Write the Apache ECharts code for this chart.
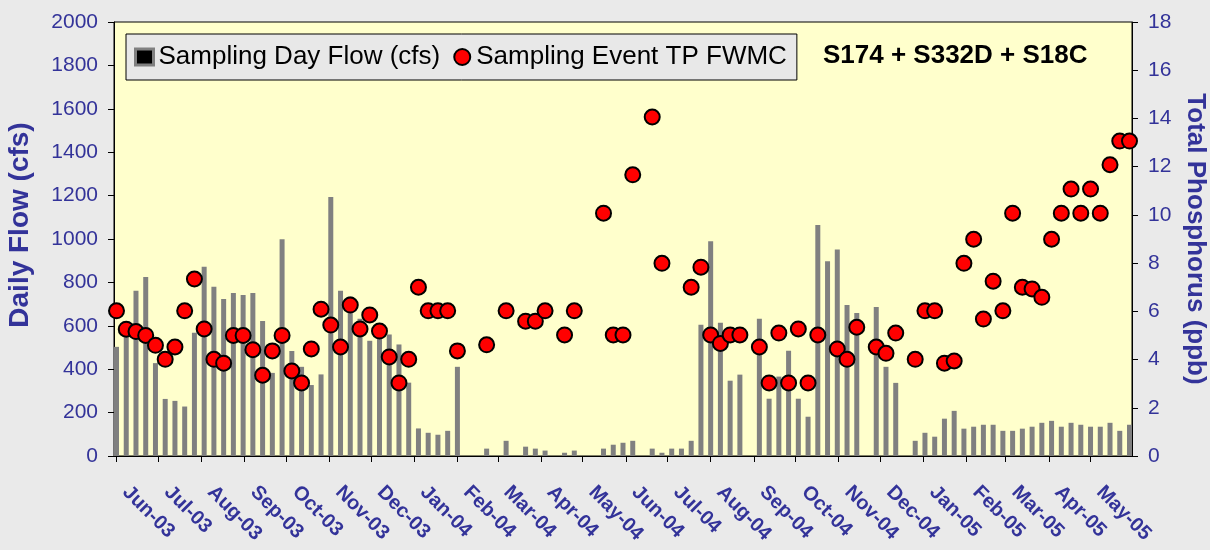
<!DOCTYPE html>
<html>
<head>
<meta charset="utf-8">
<title>S174 + S332D + S18C</title>
<script src="https://cdn.jsdelivr.net/npm/echarts@6/dist/echarts.min.js"></script>
<style>
    html, body { margin: 0; padding: 0; background: #EAEAEA; }
    #chart { width: 1210px; height: 550px; }
</style>
</head>
<body>
<div id="chart"></div>
<script>
// sampling days are weekly, the first one on 1 Jun 2003
var firstDay = [2003, 5, 1];
var lastDay = [2005, 4, 29];

// sampling day flow (cfs), one slot per week, null = no sample
var flowCfs = [
    503, 560, 762, 825, 428, 263, 254, 228, 568, 872,
    780, 723, 751, 742, 751, 622, 383, 999, 484, 411,
    327, 376, 1194, 761, 735, 633, 531, 590, 560, 514,
    338, 127, 107, 98, 116, 411, null, null, 34, null,
    70, null, 43, 34, 25, null, 15, 25, null, null,
    34, 52, 61, 70, null, 34, 15, 34, 34, 70,
    605, 990, 614, 347, 375, null, 632, 264, 366, 485,
    264, 181, 1064, 897, 952, 696, 659, null, 687, 411,
    337, null, 70, 107, 89, 172, 208, 126, 135, 144,
    144, 116, 116, 126, 135, 153, 162, 135, 153, 144,
    135, 135, 153, 116, 144
];

// sampling event TP flow weighted mean concentration (ppb)
var tpPpb = [
    6.02, 5.26, 5.16, 5.0, 4.59, 4.01, 4.52, 6.02, 7.34, 5.27,
    4.01, 3.85, 5.0, 5.0, 4.41, 3.35, 4.36, 5.0, 3.53, 3.03,
    4.44, 6.09, 5.43, 4.52, 6.26, 5.27, 5.85, 5.18, 4.11, 3.03,
    4.01, 7.0, 6.02, 6.02, 6.02, 4.36, null, null, 4.61, null,
    6.02, null, 5.59, 5.59, 6.02, null, 5.02, 6.02, null, null,
    10.07, 5.02, 5.02, 11.66, null, 14.06, 7.99, null, null, 7.0,
    7.83, 5.02, 4.67, 5.02, 5.02, null, 4.52, 3.03, 5.10, 3.03,
    5.27, 3.03, 5.02, null, 4.44, 4.01, 5.34, null, 4.52, 4.26,
    5.10, null, 4.01, 6.02, 6.02, 3.85, 3.94, 7.99, 8.99, 5.68,
    7.25, 6.02, 10.07, 7.0, 6.93, 6.58, 8.99, 10.07, 11.07, 10.07,
    11.07, 10.07, 12.08, 13.06, 13.06
];

var monthNames = ['Jan', 'Feb', 'Mar', 'Apr', 'May', 'Jun', 'Jul', 'Aug', 'Sep', 'Oct', 'Nov', 'Dec'];

var DAY = 24 * 3600 * 1000;
var fontName = '"Liberation Sans", Arial, sans-serif';
var axisBlue = '#333399';

// pair each weekly value with its date
function weekly(values) {
    var out = [];
    for (var i = 0; i < values.length; i++) {
        if (values[i] == null) continue;
        out.push([Date.UTC(firstDay[0], firstDay[1], firstDay[2] + 7 * i), values[i]]);
    }
    return out;
}

// no thousands separator on the value axes
function plainNumber(v) {
    return String(v);
}

var myChart = echarts.init(document.getElementById('chart'));

var option = {
    useUTC: true,
    animation: false,
    backgroundColor: '#EAEAEA',
    textStyle: { fontFamily: fontName },
    title: {
        text: 'S174 + S332D + S18C',
        left: 823,
        top: 43,
        padding: 0,
        textStyle: { fontSize: 26, fontWeight: 'bold', color: '#000', fontFamily: fontName }
    },
    legend: {
        left: 126,
        top: 34,
        padding: [10, 10, 10, 8],
        itemGap: 13,
        itemWidth: 18,
        itemHeight: 16,
        backgroundColor: '#E8E8E8',
        borderColor: '#000',
        borderWidth: 1,
        borderRadius: 0,
        textStyle: { fontSize: 26, color: '#000', fontFamily: fontName },
        data: [
            { name: 'Sampling Day Flow (cfs)', icon: 'rect',
              itemStyle: { color: '#000', borderColor: '#808080', borderWidth: 3 } },
            { name: 'Sampling Event TP FWMC', icon: 'circle' }
        ]
    },
    grid: {
        left: 114,
        right: 78,
        top: 22,
        bottom: 94,
        outerBoundsMode: 'none',
        containLabel: false,
        show: true,
        backgroundColor: '#FFFFCC',
        borderColor: '#000',
        borderWidth: 1
    },
    xAxis: {
        type: 'time',
        min: Date.UTC(firstDay[0], firstDay[1], firstDay[2]),
        max: Date.UTC(lastDay[0], lastDay[1], lastDay[2]),
        splitNumber: 24,
        minInterval: 28 * DAY,
        maxInterval: 31 * DAY,
        axisLine: { lineStyle: { color: '#000', width: 1 } },
        axisTick: { show: true, inside: false, length: 6, lineStyle: { color: '#000' } },
        splitLine: { show: false },
        axisLabel: {
            rotate: -45,
            margin: 24,
            padding: [0, 0, 0, 13],
            hideOverlap: false,
            showMaxLabel: false,
            color: axisBlue,
            fontSize: 20,
            fontWeight: 'bold',
            fontFamily: fontName,
            formatter: function (value) {
                var d = new Date(value);
                if (d.getUTCDate() !== 1) return '';
                return monthNames[d.getUTCMonth()] + '-' + String(d.getUTCFullYear()).slice(2);
            }
        }
    },
    yAxis: [
        {
            type: 'value',
            min: 0,
            max: 2000,
            interval: 200,
            name: 'Daily Flow (cfs)',
            nameLocation: 'middle',
            nameGap: 80,
            nameTextStyle: {
                color: axisBlue, fontSize: 28, fontWeight: 'bold', fontFamily: fontName,
                padding: [0, 0, 0, 28]
            },
            axisLine: { show: true, lineStyle: { color: '#000' } },
            axisTick: { show: true, inside: false, length: 6, lineStyle: { color: '#000' } },
            splitLine: { show: false },
            axisLabel: { color: axisBlue, fontSize: 21, margin: 16, fontFamily: fontName, formatter: plainNumber }
        },
        {
            type: 'value',
            min: 0,
            max: 18,
            interval: 2,
            position: 'right',
            name: 'Total Phosphorus (ppb)',
            nameLocation: 'middle',
            nameGap: 48,
            nameRotate: -90,
            nameTextStyle: { color: axisBlue, fontSize: 26, fontWeight: 'bold', fontFamily: fontName },
            axisLine: { show: true, lineStyle: { color: '#000' } },
            axisTick: { show: true, inside: false, length: 6, lineStyle: { color: '#000' } },
            splitLine: { show: false },
            axisLabel: { color: axisBlue, fontSize: 21, margin: 16, fontFamily: fontName, formatter: plainNumber }
        }
    ],
    series: [
        {
            name: 'Sampling Day Flow (cfs)',
            type: 'bar',
            yAxisIndex: 0,
            barWidth: 5,
            clip: true,
            itemStyle: { color: '#808080' },
            data: weekly(flowCfs)
        },
        {
            name: 'Sampling Event TP FWMC',
            type: 'scatter',
            yAxisIndex: 1,
            symbol: 'circle',
            symbolSize: 15,
            clip: false,
            z: 5,
            itemStyle: { color: '#FF0000', borderColor: '#000', borderWidth: 2, opacity: 1 },
            data: weekly(tpPpb)
        }
    ]
};

myChart.setOption(option);
</script>
</body>
</html>
